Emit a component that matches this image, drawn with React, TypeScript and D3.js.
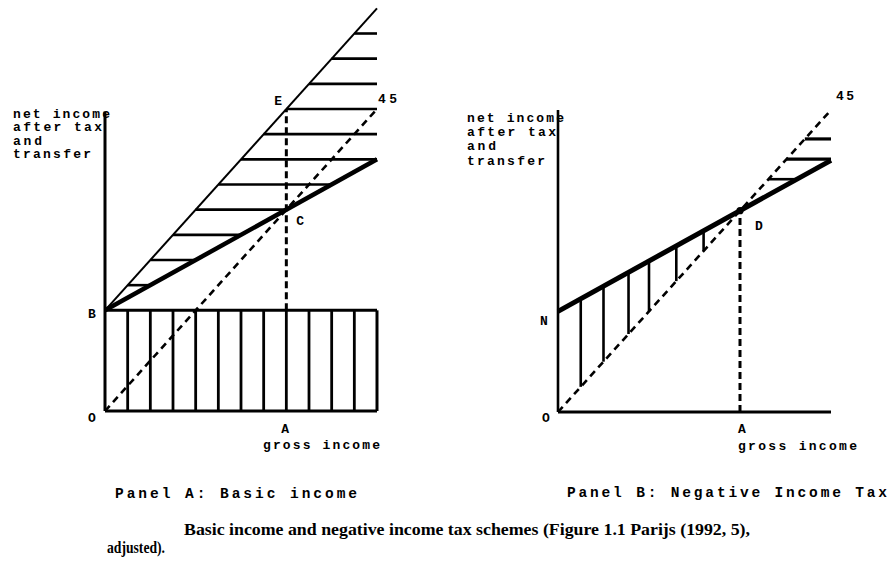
import React from 'react';
import * as d3 from 'd3';

// Gross income runs 0..GROSS_MAX on both panels; net income uses the same units.
const GROSS_MAX = 12;
const BASIC_INCOME = 4; // B / N
const BREAK_EVEN = 8; // A
const NET_SLOPE = 0.5; // 1 - marginal tax rate
const AXIS_TOP_A = 11.9;
const AXIS_TOP_B = 12;

// Panel A: vertical hatching of the basic income block
const GRID_A = [1, 2, 3, 4, 5, 6, 7, 8, 9, 10, 11];
// Panel A: horizontal hatching of the tax wedge (net income levels)
const TAX_LEVELS_A = [5, 6, 7, 8, 9, 10, 11, 12, 13, 14, 15];
// Panel B: transfers paid below the break-even point (gross income values)
const TRANSFER_STEPS_B = [1, 2, 3.1, 4, 5.2, 6.4];
// Panel B: taxes paid above the break-even point (net income levels)
const TAX_LEVELS_B = [9.25, 10.05, 10.85];

const Y_LABEL = ['net income', 'after tax', 'and', 'transfer'];
const Y_LABEL_WIDTH = [97, 89, 29, 78];

const MONO = '"Liberation Mono", "DejaVu Sans Mono", monospace';
const SERIF = '"Liberation Serif", "Times New Roman", serif';

const net = (g: number) => BASIC_INCOME + NET_SLOPE * g;
const netInv = (n: number) => (n - BASIC_INCOME) / NET_SLOPE;

const xA = d3.scaleLinear().domain([0, GROSS_MAX]).range([105, 377]);
const yA = d3.scaleLinear().domain([0, GROSS_MAX]).range([411, 109]);
const xB = d3.scaleLinear().domain([0, GROSS_MAX]).range([558, 831]);
const yB = d3.scaleLinear().domain([0, GROSS_MAX]).range([412, 110]);

type Pt = [number, number];

function Seg({ sx, sy, a, b, w, dash }: { sx: d3.ScaleLinear<number, number>; sy: d3.ScaleLinear<number, number>; a: Pt; b: Pt; w: number; dash?: string }) {
  const line = d3.line<Pt>().x((d) => sx(d[0])).y((d) => sy(d[1]));
  return <path d={line([a, b]) || ''} fill="none" stroke="#000" strokeWidth={w} strokeDasharray={dash} strokeLinecap="butt" />;
}

function Label({ x, y, text, size = 13, width }: { x: number; y: number; text: string; size?: number; width?: number }) {
  return (
    <text
      x={x}
      y={y}
      fontFamily={MONO}
      fontWeight="bold"
      fontSize={size}
      textLength={width}
      lengthAdjust={width ? 'spacing' : undefined}
      fill="#000"
    >
      {text}
    </text>
  );
}

function PanelA() {
  const sx = xA, sy = yA;
  return (
    <g>
      {/* axes */}
      <Seg sx={sx} sy={sy} a={[0, 0]} b={[0, AXIS_TOP_A]} w={3} />
      <Seg sx={sx} sy={sy} a={[0, 0]} b={[GROSS_MAX, 0]} w={3} />
      {/* basic income block */}
      <Seg sx={sx} sy={sy} a={[0, BASIC_INCOME]} b={[GROSS_MAX, BASIC_INCOME]} w={3} />
      <Seg sx={sx} sy={sy} a={[GROSS_MAX, 0]} b={[GROSS_MAX, BASIC_INCOME]} w={3} />
      {GRID_A.map((g) => (
        <Seg key={g} sx={sx} sy={sy} a={[g, 0]} b={[g, BASIC_INCOME]} w={2.8} />
      ))}
      {/* gross income plus basic income */}
      <Seg sx={sx} sy={sy} a={[0, BASIC_INCOME]} b={[GROSS_MAX, BASIC_INCOME + GROSS_MAX]} w={2} />
      {/* tax wedge hatching */}
      {TAX_LEVELS_A.map((n) => (
        <Seg key={n} sx={sx} sy={sy} a={[n - BASIC_INCOME, n]} b={[Math.min(netInv(n), GROSS_MAX), n]} w={2.6} />
      ))}
      {/* net income line */}
      <Seg sx={sx} sy={sy} a={[0, BASIC_INCOME]} b={[GROSS_MAX, net(GROSS_MAX)]} w={4.5} />
      {/* 45 degree line */}
      <Seg sx={sx} sy={sy} a={[0, 0]} b={[GROSS_MAX, GROSS_MAX]} w={2.6} dash="7 5" />
      {/* A-E drop line */}
      <Seg sx={sx} sy={sy} a={[BREAK_EVEN, BASIC_INCOME]} b={[BREAK_EVEN, BREAK_EVEN + BASIC_INCOME]} w={3} dash="7 4" />

      {Y_LABEL.map((t, i) => (
        <Label key={t} x={13} y={118 + i * 13.3} text={t} width={Y_LABEL_WIDTH[i]} />
      ))}
      <Label x={sx(BREAK_EVEN) - 12} y={sy(BREAK_EVEN + BASIC_INCOME) - 4} text="E" />
      <Label x={sx(GROSS_MAX) + 1} y={sy(GROSS_MAX) - 6} text="45" width={19} />
      <Label x={sx(BREAK_EVEN) + 10} y={sy(BREAK_EVEN) + 15} text="C" />
      <Label x={sx(0) - 17} y={sy(BASIC_INCOME) + 8} text="B" />
      <Label x={sx(0) - 17} y={sy(0) + 11} text="O" />
      <Label x={sx(BREAK_EVEN) - 5} y={sy(0) + 22} text="A" />
      <Label x={263} y={449} text="gross income" width={117} />
      <Label x={115} y={498} text="Panel A: Basic income" size={14.5} width={242} />
    </g>
  );
}

function PanelB() {
  const sx = xB, sy = yB;
  return (
    <g>
      <Seg sx={sx} sy={sy} a={[0, 0]} b={[0, AXIS_TOP_B]} w={2.6} />
      <Seg sx={sx} sy={sy} a={[0, 0]} b={[GROSS_MAX, 0]} w={3} />
      {/* transfers below break-even */}
      {TRANSFER_STEPS_B.map((g) => (
        <Seg key={g} sx={sx} sy={sy} a={[g, g]} b={[g, net(g)]} w={2.6} />
      ))}
      {/* taxes above break-even */}
      {TAX_LEVELS_B.map((n) => (
        <Seg key={n} sx={sx} sy={sy} a={[n, n]} b={[Math.min(netInv(n), GROSS_MAX), n]} w={n > 10 ? 3.2 : 2.6} />
      ))}
      {/* 45 degree line */}
      <Seg sx={sx} sy={sy} a={[0, 0]} b={[GROSS_MAX, GROSS_MAX]} w={2.6} dash="7 5" />
      {/* net income line */}
      <Seg sx={sx} sy={sy} a={[0, BASIC_INCOME]} b={[GROSS_MAX, net(GROSS_MAX)]} w={5} />
      {/* A-D drop line */}
      <Seg sx={sx} sy={sy} a={[BREAK_EVEN, 0]} b={[BREAK_EVEN, BREAK_EVEN]} w={3} dash="7 4" />
      <circle cx={sx(BREAK_EVEN)} cy={sy(BREAK_EVEN)} r={3.6} fill="#000" />

      {Y_LABEL.map((t, i) => (
        <Label key={t} x={467} y={122 + i * 14.2} text={t} width={Y_LABEL_WIDTH[i]} />
      ))}
      <Label x={sx(GROSS_MAX) + 5} y={sy(GROSS_MAX) - 10} text="45" width={18} />
      <Label x={sx(BREAK_EVEN) + 15} y={sy(BREAK_EVEN) + 19} text="D" />
      <Label x={sx(0) - 18} y={sy(BASIC_INCOME) + 14} text="N" />
      <Label x={sx(0) - 16} y={sy(0) + 10} text="O" />
      <Label x={sx(BREAK_EVEN) - 2} y={sy(0) + 21} text="A" />
      <Label x={738} y={450} text="gross income" width={119} />
      <Label x={567} y={497} text="Panel B: Negative Income Tax" size={14.5} width={320} />
    </g>
  );
}

export default function App() {
  return (
    <svg
      width={894}
      height={561}
      viewBox="0 0 894 561"
      style={{ position: 'absolute', left: 0, top: 0, background: '#fff' }}
    >
      <rect x={0} y={0} width={894} height={561} fill="#fff" />
      <PanelA />
      <PanelB />
      <text x={184} y={535} fontFamily={SERIF} fontWeight="bold" fontSize={16} textLength={566} lengthAdjust="spacingAndGlyphs">
        Basic income and negative income tax schemes (Figure 1.1 Parijs (1992, 5),
      </text>
      <text x={107} y={553} fontFamily={SERIF} fontWeight="bold" fontSize={16} textLength={58} lengthAdjust="spacingAndGlyphs">
        adjusted).
      </text>
    </svg>
  );
}
